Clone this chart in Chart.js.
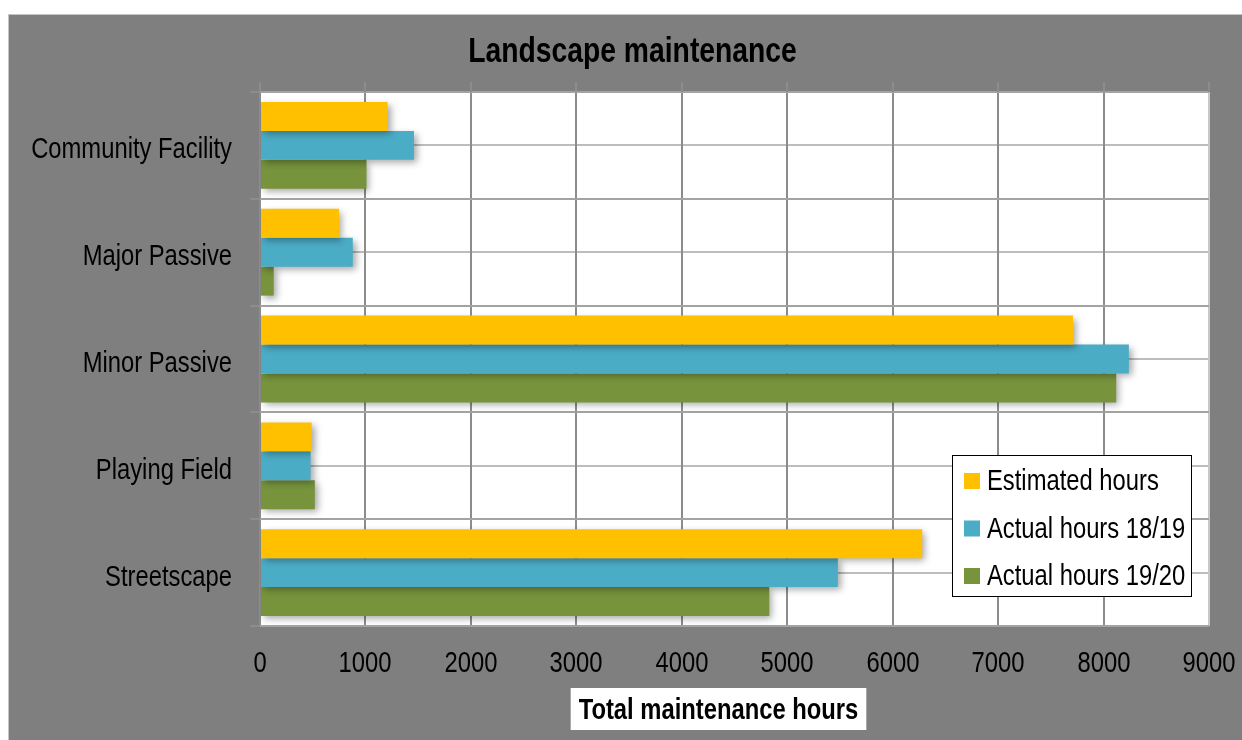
<!DOCTYPE html>
<html>
<head>
<meta charset="utf-8">
<script src="https://cdn.jsdelivr.net/npm/chart.js@4/dist/chart.umd.min.js"></script>
<style>
  html, body { margin: 0; padding: 0; background: #fff; }
  #frame { position: absolute; left: 8px; top: 14px; width: 1233px; height: 725px; background: #7f7f7f; border-top: 1px solid #c4c4c4; border-left: 1px solid #c4c4c4; }
  #frame canvas { display: block; }
</style>
</head>
<body>
<div id="frame"><canvas id="chart" width="1233" height="725"></canvas></div>
<script>
const categories = ["Community Facility", "Major Passive", "Minor Passive", "Playing Field", "Streetscape"];
const estimated = [1210, 750, 7710, 490, 6280];
const actual1819 = [1460, 880, 8240, 480, 5480];
const actual1920 = [1010, 130, 8120, 520, 4830];
const xTicks = [0, 1000, 2000, 3000, 4000, 5000, 6000, 7000, 8000, 9000];
const chartTitle = "Landscape maintenance";
const xTitle = "Total maintenance hours";

// the original uses a narrow face; squeeze plain sans if the narrow one is missing
const probe = document.createElement("canvas").getContext("2d");
const hasNarrow = (() => {
  probe.font = '29px "Liberation Sans Narrow", monospace';
  const a = probe.measureText("Community Facility").width;
  probe.font = "29px monospace";
  return a !== probe.measureText("Community Facility").width;
})();
const FAMILY = hasNarrow ? '"Liberation Sans Narrow", "Arial Narrow", sans-serif' : '"Liberation Sans", Arial, sans-serif';
const SX = hasNarrow ? 1 : 0.82;

function text(ctx, str, x, y, align, font) {
  ctx.save();
  ctx.font = font;
  ctx.textAlign = align;
  ctx.textBaseline = "middle";
  ctx.translate(x, y);
  ctx.scale(SX, 1);
  ctx.fillText(str, 0, 0);
  ctx.restore();
}
function textWidth(ctx, str, font) {
  ctx.save(); ctx.font = font;
  const w = ctx.measureText(str).width * SX;
  ctx.restore();
  return w;
}

const deco = {
  id: "deco",
  beforeDraw(chart) {
    const { ctx, chartArea: a, scales } = chart;
    ctx.save();
    ctx.fillStyle = "#fff";
    ctx.fillRect(a.left, a.top, a.right - a.left, a.bottom - a.top);
    // lighter lines through category centres
    ctx.strokeStyle = "#bdbdbd";
    ctx.lineWidth = 2;
    categories.forEach((_, i) => {
      const y = Math.round(scales.y.getPixelForValue(i));
      ctx.beginPath(); ctx.moveTo(a.left, y); ctx.lineTo(a.right, y); ctx.stroke();
    });
    ctx.restore();
  },
  beforeDatasetsDraw(chart) {
    const ctx = chart.ctx;
    ctx.save();
    ctx.shadowColor = "rgba(0,0,0,0.35)";
    ctx.shadowBlur = 7;
    ctx.shadowOffsetX = 3;
    ctx.shadowOffsetY = 3;
  },
  afterDatasetsDraw(chart) {
    chart.ctx.restore();
  },
  afterDraw(chart) {
    const { ctx, chartArea: a, scales } = chart;
    const f29 = `29px ${FAMILY}`;
    ctx.save();
    ctx.fillStyle = "#000";

    // title
    text(ctx, chartTitle, chart.width / 2 + 7, a.top - 40, "center", `bold 34.5px ${FAMILY}`);

    // small tick marks above the plot
    ctx.strokeStyle = "#8c8c8c";
    ctx.lineWidth = 2;
    xTicks.forEach((v) => {
      const x = Math.round(scales.x.getPixelForValue(v));
      ctx.beginPath(); ctx.moveTo(x, a.top - 10); ctx.lineTo(x, a.top); ctx.stroke();
      text(ctx, String(v), x, a.bottom + 38, "center", f29);
    });

    // category labels
    categories.forEach((c, i) => {
      text(ctx, c, a.left - 28, scales.y.getPixelForValue(i) + 5, "right", f29);
    });

    // legend box
    const bw = 240, bh = 142;
    const bx = a.right - 17 - bw, by = a.bottom - 29 - bh;
    ctx.fillStyle = "#fff";
    ctx.fillRect(bx, by, bw, bh);
    ctx.strokeStyle = "#000";
    ctx.lineWidth = 1;
    ctx.strokeRect(bx + 0.5, by + 0.5, bw - 1, bh - 1);
    chart.data.datasets.forEach((ds, i) => {
      const cy = by + 26 + i * 47.5;
      ctx.fillStyle = ds.backgroundColor;
      ctx.fillRect(bx + 12, cy - 8, 16, 16);
      ctx.fillStyle = "#000";
      text(ctx, ds.label, bx + 35, cy + 1, "left", f29);
    });

    // x axis title in a white box
    const tf = `bold 29px ${FAMILY}`;
    const tw = textWidth(ctx, xTitle, tf);
    const cx = a.left + 458.5, ty = a.bottom + 83;
    ctx.fillStyle = "#fff";
    ctx.fillRect(cx - tw / 2 - 8, ty - 21, tw + 16, 42);
    ctx.fillStyle = "#000";
    text(ctx, xTitle, cx, ty + 2, "center", tf);
    ctx.restore();
  },
};

new Chart(document.getElementById("chart"), {
  type: "bar",
  data: {
    labels: categories,
    datasets: [
      { label: "Estimated hours", data: estimated, backgroundColor: "#FFC000" },
      { label: "Actual hours 18/19", data: actual1819, backgroundColor: "#4BACC6" },
      { label: "Actual hours 19/20", data: actual1920, backgroundColor: "#77933C" },
    ],
  },
  options: {
    indexAxis: "y",
    responsive: false,
    animation: false,
    devicePixelRatio: 1,
    categoryPercentage: 0.813,
    barPercentage: 1,
    layout: { padding: { left: 0, right: 33, top: 77, bottom: 0 } },
    plugins: {
      legend: { display: false },
      tooltip: { enabled: false },
      title: { display: false },
    },
    scales: {
      x: {
        min: 0, max: 9000,
        afterFit: (s) => { s.height = 114; },
        afterBuildTicks: (s) => { s.ticks = xTicks.map((v) => ({ value: v })); },
        border: { display: false },
        grid: {
          drawTicks: false,
          lineWidth: 2,
          color: (c) => (c.tick && c.tick.value === 9000 ? "#c8c8c8" : "#8c8c8c"),
        },
        ticks: { display: false },
      },
      y: {
        afterFit: (s) => { s.width = 251; },
        border: { display: false },
        grid: { offset: true, lineWidth: 2, color: "#a3a3a3", tickLength: 10, tickColor: "#8c8c8c" },
        ticks: { display: false },
      },
    },
  },
  plugins: [deco],
});
</script>
</body>
</html>
